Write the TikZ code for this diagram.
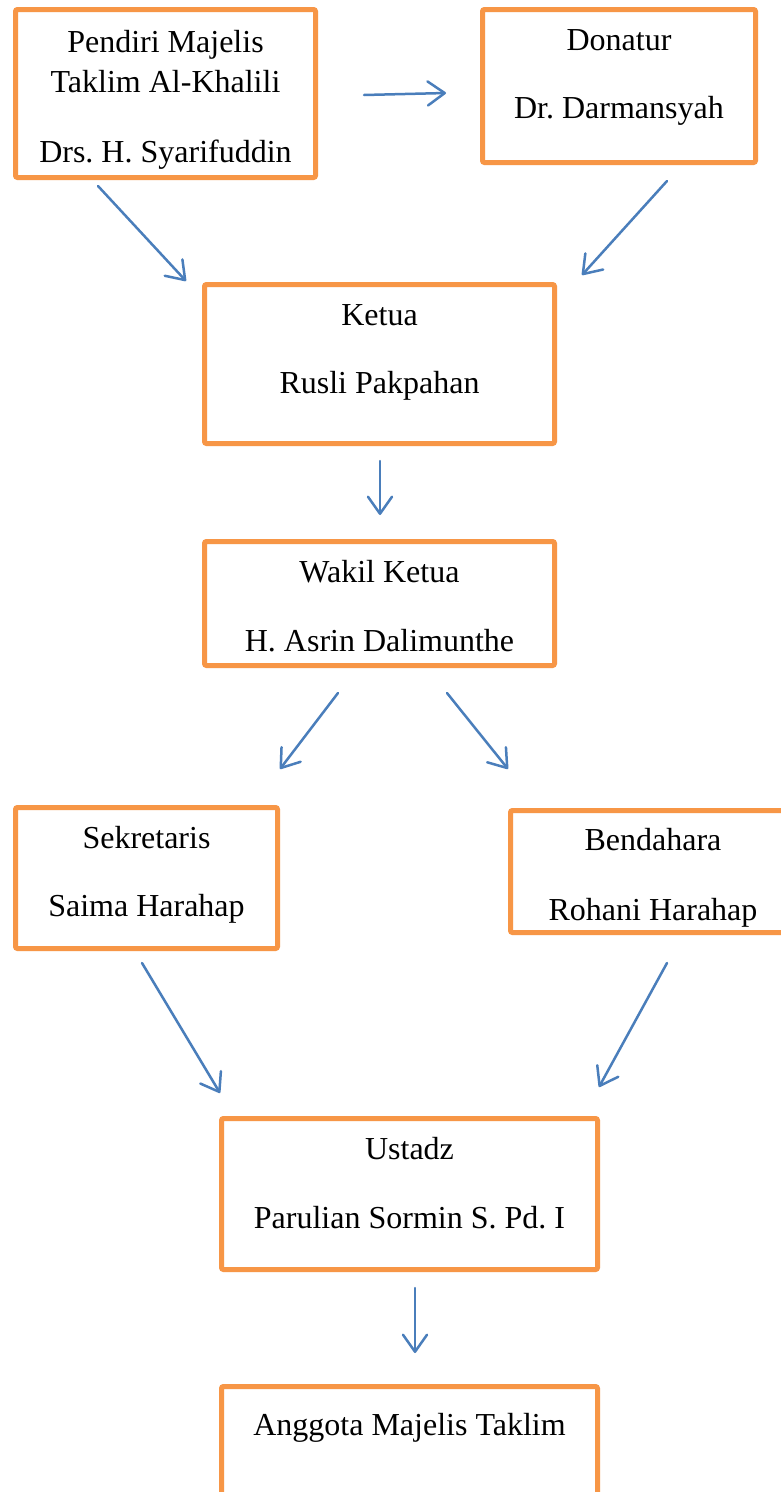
\documentclass[tikz,border=0pt]{standalone}
\usepackage{fontspec}
\setmainfont{Liberation Serif}
\frenchspacing
\usetikzlibrary{arrows.meta}
\definecolor{boxorange}{HTML}{F79646}
\definecolor{arrowblue}{HTML}{4A7EBB}
\begin{document}
\begin{tikzpicture}[x=1pt,y=-1pt,
  box/.style={draw=boxorange, line width=5pt, rounded corners=2pt, inner sep=0pt, fill=none},
  txt/.style={anchor=base, inner sep=0pt, font=\fontsize{32}{38}\selectfont},
  arr/.style={draw=arrowblue, line width=2.5pt, line cap=round,
    -{Straight Barb[length=17pt,width=24pt,line join=round,line cap=round]}}
]
\useasboundingbox (0,0) rectangle (781,1492);
\clip (0,0) rectangle (781,1492);
\fill[white] (0,0) rectangle (781,1492);

% boxes
\node[box, minimum width=300pt, minimum height=168pt] (pendiri) at (165.5,93.5) {};
\node[box, minimum width=273pt, minimum height=153pt] (donatur) at (619,86) {};
\node[box, minimum width=350pt, minimum height=159pt] (ketua) at (379.5,364) {};
\node[box, minimum width=350pt, minimum height=124pt] (wakil) at (379.5,603.5) {};
\node[box, minimum width=262pt, minimum height=141pt] (sekretaris) at (146.5,878) {};
\node[box, minimum width=285pt, minimum height=122pt] (bendahara) at (653,871.5) {};
\node[box, minimum width=376pt, minimum height=151pt] (ustadz) at (409.5,1194) {};
\node[box, minimum width=376pt, minimum height=150pt] (anggota) at (409.5,1461.5) {};

% texts
\node[txt] (t1) at (165.5,52) {Pendiri Majelis};
\node[txt] (t2) at (165.5,92) {Taklim Al-Khalili};
\node[txt] (t3) at (165.5,162) {Drs. H. Syarifuddin};
\node[txt] (t4) at (619,50) {Donatur};
\node[txt] (t5) at (619,118) {Dr. Darmansyah};
\node[txt] (t6) at (379.5,325) {Ketua};
\node[txt] (t7) at (379.5,393) {Rusli Pakpahan};
\node[txt] (t8) at (379.5,582) {Wakil Ketua};
\node[txt] (t9) at (379.5,651) {H. Asrin Dalimunthe};
\node[txt] (t10) at (146.5,848) {Sekretaris};
\node[txt] (t11) at (146.5,916) {Saima Harahap};
\node[txt] (t12) at (653,850) {Bendahara};
\node[txt] (t13) at (653,920) {Rohani Harahap};
\node[txt] (t14) at (409.5,1159) {Ustadz};
\node[txt] (t15) at (409.5,1228) {Parulian Sormin S. Pd. I};
\node[txt] (t16) at (409.5,1435) {Anggota Majelis Taklim};

% connector end points
\coordinate (pd1) at (364,95);   \coordinate (pd2) at (446,93);
\coordinate (pk1) at (98,186);   \coordinate (pk2) at (186,281);
\coordinate (dk1) at (667,181);  \coordinate (dk2) at (582,275);
\coordinate (kw1) at (380,461);  \coordinate (kw2) at (380,515);
\coordinate (ws1) at (338,693);  \coordinate (ws2) at (280,769);
\coordinate (wb1) at (447,693);  \coordinate (wb2) at (508,769);
\coordinate (su1) at (142,963);  \coordinate (su2) at (220,1093);
\coordinate (bu1) at (667,963);  \coordinate (bu2) at (599,1087);
\coordinate (ua1) at (415,1288); \coordinate (ua2) at (415,1353);

\draw[arr] (pd1) -- (pd2);
\draw[arr] (pk1) -- (pk2);
\draw[arr] (dk1) -- (dk2);
\draw[arr] (kw1) -- (kw2);
\draw[arr] (ws1) -- (ws2);
\draw[arr] (wb1) -- (wb2);
\draw[arr] (su1) -- (su2);
\draw[arr] (bu1) -- (bu2);
\draw[arr] (ua1) -- (ua2);
\end{tikzpicture}
\end{document}
